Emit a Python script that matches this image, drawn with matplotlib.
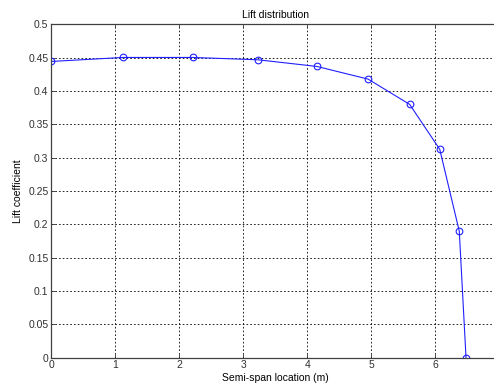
import matplotlib
matplotlib.use("Agg")
import matplotlib.pyplot as plt

# spanwise stations and section lift coefficients
span = [0.0, 1.12, 2.21, 3.23, 4.15, 4.95, 5.60, 6.07, 6.375, 6.48]
cl = [0.4445, 0.4505, 0.4505, 0.447, 0.437, 0.418, 0.380, 0.3125, 0.1895, 0.0]

xticks = [0, 1, 2, 3, 4, 5, 6]
yticks = [0, 0.05, 0.1, 0.15, 0.2, 0.25, 0.3, 0.35, 0.4, 0.45, 0.5]

plt.rcParams['font.family'] = ['Liberation Sans', 'DejaVu Sans']

fig = plt.figure(figsize=(4.94, 3.85), dpi=100)
ax = fig.add_axes([0.1038, 0.0714, 0.9069, 0.865])

ax.plot(span, cl, color='#2020ff', linewidth=0.8, marker='o', markersize=4.8,
        markerfacecolor='none', markeredgecolor='#2020ff', markeredgewidth=0.8)

ax.set_xlim(0, 7)
ax.set_ylim(0, 0.5)
ax.set_xticks(xticks)
ax.set_xticklabels([str(t) for t in xticks])
ax.set_yticks(yticks)
ax.set_yticklabels([f"{t:g}" for t in yticks])
ax.grid(True, color='black', linestyle=(0, (2, 2.5)), linewidth=0.6)
ax.set_axisbelow(True)
ax.tick_params(direction='in', length=3, width=0.6, labelsize=7.5,
               top=True, right=True, pad=2, colors='#303030')

for side in ['left', 'bottom', 'top']:
    ax.spines[side].set_color('#404040')
    ax.spines[side].set_linewidth(0.9)

ax.set_title('Lift distribution', fontsize=7.5, pad=5)
ax.set_xlabel('Semi-span location (m)', fontsize=7.5, labelpad=2)
ax.set_ylabel('Lift coefficient', fontsize=7.5, labelpad=4)

fig.savefig('out.png', dpi=100)
